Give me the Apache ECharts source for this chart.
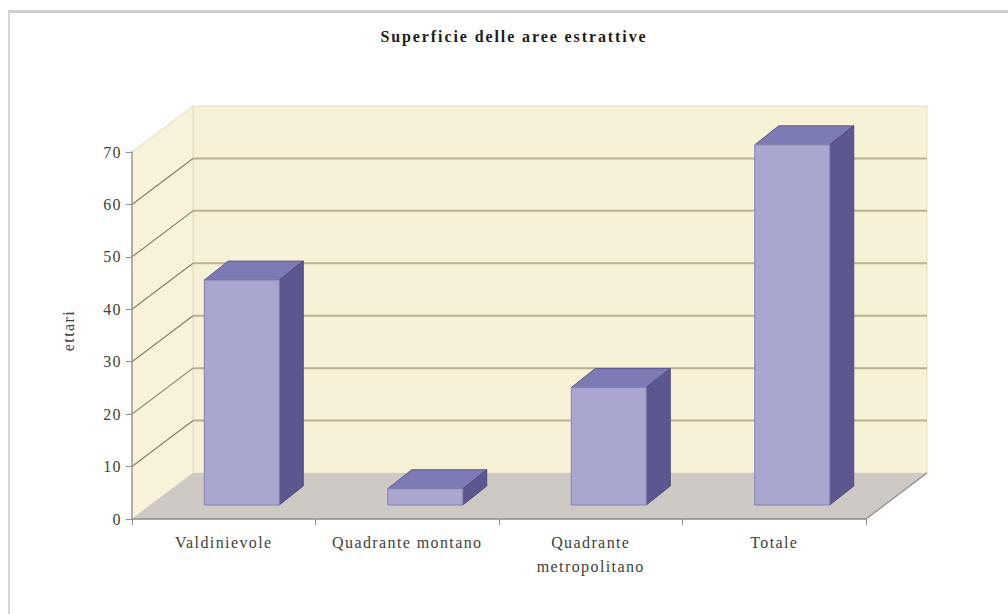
<!DOCTYPE html>
<html>
<head>
<meta charset="utf-8">
<title>Superficie delle aree estrattive</title>
<script src="https://cdn.jsdelivr.net/npm/echarts@6/dist/echarts.min.js"></script>
<style>
	html, body { margin: 0; padding: 0; background: #fff; }
	#chart { width: 1008px; height: 614px; }
	/* the original text is widely tracked */
	#chart text { letter-spacing: 1.4px; }
	#chart text[style*="bold"] { letter-spacing: 1.9px; }
</style>
</head>
<body>
<div id="chart"></div>
<script>
const categories = ["Valdinievole", "Quadrante montano", "Quadrante\nmetropolitano", "Totale"];
const superficie = [42.9, 3.1, 22.4, 68.7];
const gridValues = [10, 20, 30, 40, 50, 60];

// 3d look: how far the back wall and the bars are pushed away from the axes
const wallDepth = [61, -46];
const barOffset = [18, -14];
const barDepth = [24, -19];
const barWidth = 75;

const myChart = echarts.init(document.getElementById("chart"), null, { renderer: "svg" });

function poly(points, fill, stroke, lineWidth) {
	return {
		type: "polygon",
		shape: { points: points },
		style: { fill: fill, stroke: stroke || "none", lineWidth: lineWidth || 0 }
	};
}

// walls and floor, drawn once from the grid rectangle
function renderWalls(params) {
	const g = params.coordSys;
	const [dx, dy] = wallDepth;
	const l = g.x, r = g.x + g.width, t = g.y, b = g.y + g.height;
	return {
		type: "group",
		children: [
			poly([[l + dx, t + dy], [r + dx, t + dy], [r + dx, b + dy], [l + dx, b + dy]], "#f7f1d8", "#e6e0c6", 1),
			poly([[l, t], [l + dx, t + dy], [l + dx, b + dy], [l, b]], "#f8f2da", "#e0dbc4", 1),
			poly([[l, b], [l + dx, b + dy], [r + dx, b + dy], [r, b]], "#cec9c5"),
			{ type: "line", shape: { x1: r, y1: b, x2: r + dx, y2: b + dy }, style: { stroke: "#8f8b84", lineWidth: 1.2 } }
		]
	};
}

function renderGridLine(params, api) {
	const g = params.coordSys;
	const [dx, dy] = wallDepth;
	const y = api.coord([0, api.value(0)])[1];
	return {
		type: "group",
		children: [
			{ type: "line", shape: { x1: g.x, y1: y, x2: g.x + dx, y2: y + dy }, style: { stroke: "#85816a", lineWidth: 1.2 } },
			{ type: "line", shape: { x1: g.x + dx, y1: y + dy, x2: g.x + g.width + dx, y2: y + dy }, style: { stroke: "#b9b294", lineWidth: 2 } }
		]
	};
}

function renderBar(params, api) {
	const base = api.coord([api.value(0), 0]);
	const top = api.coord([api.value(0), api.value(1)]);
	const x0 = base[0] + barOffset[0] - barWidth / 2;
	const x1 = x0 + barWidth;
	const y0 = top[1] + barOffset[1];
	const y1 = base[1] + barOffset[1];
	const [dx, dy] = barDepth;
	return {
		type: "group",
		children: [
			poly([[x0, y0], [x0 + dx, y0 + dy], [x1 + dx, y0 + dy], [x1, y0]], "#7d7bb4", "#5f5b90", 1),
			poly([[x1, y0], [x1 + dx, y0 + dy], [x1 + dx, y1 + dy], [x1, y1]], "#5c588f", "#4f4b80", 1),
			poly([[x0, y0], [x1, y0], [x1, y1], [x0, y1]], "#a9a6d0", "#8583b0", 1)
		]
	};
}

const option = {
	animation: false,
	backgroundColor: "#fff",
	title: {
		text: "Superficie delle aree estrattive",
		left: 509,
		top: 23,
		textAlign: "center",
		textStyle: { fontFamily: "Liberation Serif", fontSize: 16, fontWeight: "bold", color: "#1c1c1c" }
	},
	graphic: [
		{ type: "line", silent: true, shape: { x1: 8, y1: 11.5, x2: 1008, y2: 11.5 }, style: { stroke: "#cfcfcf", lineWidth: 3 } },
		{ type: "line", silent: true, shape: { x1: 9, y1: 11, x2: 9, y2: 614 }, style: { stroke: "#d6d6d6", lineWidth: 2 } }
	],
	grid: { left: 132, top: 152, width: 734, height: 367 },
	xAxis: {
		type: "category",
		data: categories,
		z: 5,
		axisLine: { lineStyle: { color: "#8c8c8c", width: 1.5 } },
		axisTick: { show: true, alignWithLabel: false, length: 6, lineStyle: { color: "#8c8c8c" } },
		axisLabel: { interval: 0, margin: 11, lineHeight: 24, color: "#404040", fontFamily: "Liberation Serif", fontSize: 16 }
	},
	yAxis: {
		type: "value",
		min: 0,
		max: 70,
		interval: 10,
		z: 5,
		name: "ettari",
		nameLocation: "middle",
		nameRotate: 90,
		nameGap: 56,
		nameTextStyle: { color: "#404040", fontFamily: "Liberation Serif", fontSize: 16, padding: [0, 0, 0, 10] },
		splitLine: { show: false },
		axisLine: { show: true, lineStyle: { color: "#9a9a9a", width: 1.5 } },
		axisTick: { show: true, length: 6, lineStyle: { color: "#8c8c8c" } },
		axisLabel: { margin: 10, color: "#404040", fontFamily: "Liberation Serif", fontSize: 16 }
	},
	series: [
		{ type: "custom", z: 1, silent: true, renderItem: renderWalls, data: [0], encode: { y: 0 } },
		{ type: "custom", z: 2, silent: true, renderItem: renderGridLine, data: gridValues.map(v => [v]), encode: { y: 0 } },
		{
			type: "custom",
			z: 3,
			name: "ettari",
			renderItem: renderBar,
			data: superficie.map((v, i) => [i, v]),
			encode: { x: 0, y: 1 }
		}
	]
};
myChart.setOption(option);
</script>
</body>
</html>
